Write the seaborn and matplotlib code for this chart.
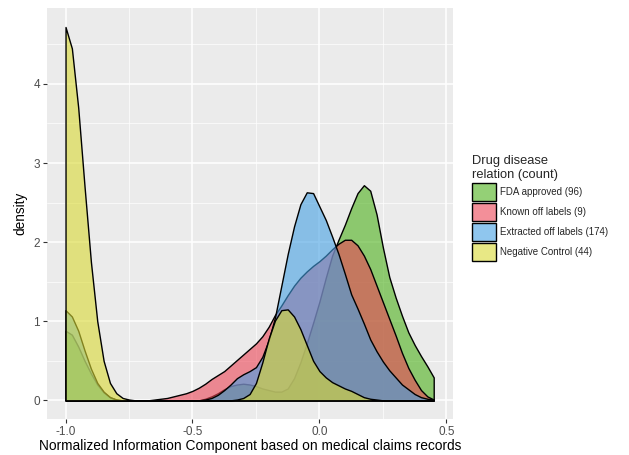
import matplotlib
matplotlib.use("Agg")
import matplotlib.pyplot as plt
import seaborn as sns
import pandas as pd
import numpy as np
from matplotlib.colors import to_rgba
from matplotlib.patches import Patch

# x positions where the densities were read (step 0.025)
x_grid = [-1.000, -0.975, -0.950, -0.925, -0.900, -0.875, -0.850, -0.825, -0.800, -0.775,
          -0.750, -0.725, -0.700, -0.675, -0.650, -0.625, -0.600, -0.575, -0.550, -0.525,
          -0.500, -0.475, -0.450, -0.425, -0.400, -0.375, -0.350, -0.325, -0.300, -0.275,
          -0.250, -0.225, -0.200, -0.175, -0.150, -0.125, -0.100, -0.075, -0.050, -0.025,
          0.000, 0.025, 0.050, 0.075, 0.100, 0.125, 0.150, 0.175, 0.200, 0.225,
          0.250, 0.275, 0.300, 0.325, 0.350, 0.375, 0.400, 0.425, 0.450]

fda_approved = [0.88, 0.83, 0.68, 0.50, 0.34, 0.20, 0.10, 0.04, 0.01, 0.00,
                0.00, 0.00, 0.00, 0.00, 0.00, 0.00, 0.00, 0.00, 0.00, 0.00,
                0.00, 0.00, 0.02, 0.05, 0.09, 0.14, 0.18, 0.20, 0.21, 0.20,
                0.18, 0.15, 0.13, 0.11, 0.11, 0.15, 0.28, 0.48, 0.72, 0.98,
                1.25, 1.55, 1.83, 2.03, 2.22, 2.43, 2.62, 2.72, 2.65, 2.35,
                1.93, 1.56, 1.30, 1.07, 0.86, 0.70, 0.56, 0.43, 0.29]

known_off = [0.00, 0.00, 0.00, 0.00, 0.00, 0.00, 0.00, 0.00, 0.00, 0.00,
             0.00, 0.00, 0.00, 0.00, 0.01, 0.02, 0.03, 0.05, 0.07, 0.09,
             0.12, 0.16, 0.21, 0.27, 0.32, 0.37, 0.44, 0.51, 0.58, 0.65,
             0.72, 0.81, 0.93, 1.08, 1.20, 1.33, 1.45, 1.55, 1.63, 1.70,
             1.76, 1.83, 1.91, 1.98, 2.03, 2.03, 1.96, 1.83, 1.66, 1.45,
             1.24, 1.03, 0.82, 0.60, 0.41, 0.26, 0.13, 0.05, 0.01]

extracted_off = [1.14, 1.06, 0.88, 0.63, 0.40, 0.22, 0.11, 0.04, 0.01, 0.00,
                 0.00, 0.00, 0.00, 0.00, 0.00, 0.00, 0.00, 0.00, 0.00, 0.00,
                 0.00, 0.00, 0.01, 0.03, 0.07, 0.13, 0.20, 0.28, 0.33, 0.37,
                 0.42, 0.55, 0.76, 1.05, 1.45, 1.85, 2.20, 2.48, 2.63, 2.62,
                 2.45, 2.28, 2.07, 1.85, 1.60, 1.34, 1.16, 0.97, 0.77, 0.62,
                 0.49, 0.38, 0.29, 0.20, 0.14, 0.08, 0.04, 0.02, 0.01]

negative_control = [4.72, 4.45, 3.70, 2.70, 1.75, 1.00, 0.50, 0.22, 0.09, 0.03,
                    0.01, 0.00, 0.00, 0.00, 0.00, 0.00, 0.00, 0.00, 0.00, 0.00,
                    0.00, 0.00, 0.00, 0.00, 0.00, 0.00, 0.00, 0.01, 0.03, 0.08,
                    0.22, 0.48, 0.78, 1.01, 1.14, 1.15, 1.06, 0.90, 0.70, 0.50,
                    0.37, 0.29, 0.23, 0.19, 0.15, 0.12, 0.08, 0.04, 0.02, 0.01,
                    0.00, 0.00, 0.00, 0.00, 0.00, 0.00, 0.00, 0.00, 0.00]

groups = ['FDA approved (96)', 'Known off labels (9)',
          'Extracted off labels (174)', 'Negative Control (44)']
colors = ['#4DB11B', '#EB4455', '#44A0E3', '#DADA34']

df = pd.DataFrame({
    'x': x_grid * 4,
    'density': fda_approved + known_off + extracted_off + negative_control,
    'group': np.repeat(groups, len(x_grid)),
})

# ggplot-like look
sns.set_style("darkgrid", {"axes.facecolor": "#EBEBEB", "grid.color": "white"})
plt.rcParams['font.family'] = ['Liberation Sans', 'DejaVu Sans']

fig = plt.figure(figsize=(6.29, 4.55), dpi=100)
ax = fig.add_axes([0.0747, 0.0791, 0.6455, 0.9033])

alpha = 0.6
for g, c in zip(groups, colors):
    sub = df[df['group'] == g]
    ax.fill_between(sub['x'], 0, sub['density'], facecolor=to_rgba(c, alpha),
                    edgecolor='black', linewidth=1.0, zorder=2)

ax.set_xlim(-1.073, 0.526)
ax.set_ylim(-0.236, 4.96)
ax.set_xticks([-1.0, -0.5, 0.0, 0.5])
ax.set_xticklabels(['-1.0', '-0.5', '0.0', '0.5'])
ax.set_yticks([0, 1, 2, 3, 4])
ax.set_xticks([-0.75, -0.25, 0.25], minor=True)
ax.set_yticks([0.5, 1.5, 2.5, 3.5, 4.5], minor=True)
ax.grid(which='major', color='white', linewidth=1.1)
ax.grid(which='minor', color='white', linewidth=0.5)
for s in ax.spines.values():
    s.set_visible(False)
ax.tick_params(which='major', length=3, width=0.8, color='#333333',
               labelsize=8.5, labelcolor='#4D4D4D', pad=2, bottom=True, left=True)
ax.tick_params(which='minor', length=0)

ax.set_xlabel("Normalized Information Component based on medical claims records",
              fontsize=9.9, color='black', labelpad=1)
ax.set_ylabel("density", fontsize=9.8, color='black', labelpad=4)

handles = [Patch(facecolor=to_rgba(c, alpha), edgecolor='black', linewidth=1.0, label=g)
           for g, c in zip(groups, colors)]
leg = fig.legend(handles=handles, title="Drug disease\nrelation (count)",
                 loc='center left', bbox_to_anchor=(0.745, 0.543), frameon=False,
                 fontsize=7, title_fontsize=9.3, handlelength=2.4, handleheight=2.4,
                 labelspacing=0.25, handletextpad=0.45, borderaxespad=0)
leg._legend_box.align = "left"

plt.savefig('out.png', dpi=100)
